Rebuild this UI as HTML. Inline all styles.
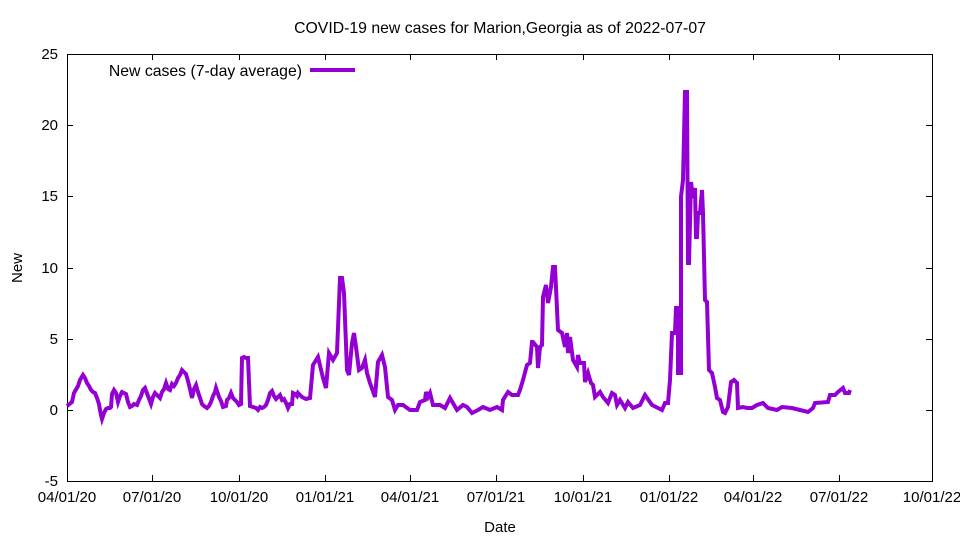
<!DOCTYPE html>
<html><head><meta charset="utf-8"><style>body{margin:0;background:#fff}svg{display:block;font-family:"Liberation Sans",sans-serif}</style></head><body>
<svg width="960" height="540" viewBox="0 0 960 540">
<rect width="960" height="540" fill="#fff"/>
<text x="500" y="33" font-size="15.8" text-anchor="middle">COVID-19 new cases for Marion,Georgia as of 2022-07-07</text>
<g stroke="#000" stroke-width="1" fill="none">
<rect x="67.5" y="54.5" width="865" height="427"/>
<path d="M67,481.5h6M67,410.5h6M67,339.5h6M67,268.5h6M67,196.5h6M67,125.5h6M67,54.5h6M932,481.5h-6M932,410.5h-6M932,339.5h-6M932,268.5h-6M932,196.5h-6M932,125.5h-6M932,54.5h-6"/>
<path d="M152.5,481v-6M239.5,481v-6M325.5,481v-6M410.5,481v-6M496.5,481v-6M583.5,481v-6M669.5,481v-6M753.5,481v-6M839.5,481v-6M152.5,54v6M239.5,54v6M325.5,54v6M410.5,54v6M496.5,54v6M583.5,54v6M669.5,54v6M753.5,54v6M839.5,54v6"/>
</g>
<g font-size="15" text-anchor="end">
<text x="58" y="486">-5</text><text x="58" y="415">0</text><text x="58" y="344">5</text><text x="58" y="273">10</text><text x="58" y="201">15</text><text x="58" y="130">20</text><text x="58" y="59">25</text>
</g>
<g font-size="15" text-anchor="middle">
<text x="67" y="502">04/01/20</text><text x="152" y="502">07/01/20</text><text x="239" y="502">10/01/20</text><text x="325" y="502">01/01/21</text><text x="410" y="502">04/01/21</text><text x="496" y="502">07/01/21</text><text x="583" y="502">10/01/21</text><text x="669" y="502">01/01/22</text><text x="753" y="502">04/01/22</text><text x="839" y="502">07/01/22</text><text x="932" y="502">10/01/22</text>
<text x="500" y="532">Date</text>
<text transform="translate(22,268) rotate(-90)">New</text>
</g>
<text x="302" y="76" font-size="15.8" text-anchor="end">New cases (7-day average)</text>
<path d="M310,70H355" stroke="#9400d3" stroke-width="4"/>
<polyline fill="none" stroke="#9400d3" stroke-width="4" stroke-linejoin="miter" points="67,406 72,402 74,393 78,386 80,380 83,375 85,378 87,383 89,386 91,390 93,392 95,393 97,398 99,404 100,410 101,415 102,419 104,413 106,409 108,408 110,408 111,407 112,394 114,390 116,393 118,402 120,396 122,392 124,393 126,394 128,402 130,407 132,406 134,404 137,405 139,400 141,396 143,390 145,388 148,396 151,404 153,397 155,393 157,395 160,398 162,392 164,389 166,383 168,389 170,390 172,384 174,386 176,383 178,378 180,375 182,370 184,372 186,374 188,381 190,389 192,398 194,389 196,385 198,392 200,398 202,404 204,406 207,408 209,406 211,402 213,396 215,392 216,388 219,397 221,401 223,407 226,406 227,400 229,398 231,393 233,398 235,400 237,402 239,405 241,404 242,358 244,357 246,358 248,358 250,406 253,407 256,408 258,410 260,407 262,408 264,407 266,405 268,400 270,393 272,391 274,396 276,399 278,397 280,395 282,400 284,399 286,403 288,408 290,404 292,404 293,393 295,394 297,396 298,393 300,395 302,397 306,399 310,398 313,365 318,357 323,378 326,388 329,353 333,360 337,353 340,278 342,278 344,293 347,370 349,375 352,343 354,333 356,347 359,370 362,368 365,360 367,373 370,383 375,397 378,362 382,355 385,367 388,397 392,400 395,410 398,405 403,405 410,410 417,410 420,402 425,400 426,392 428,397 430,393 433,405 440,405 445,408 450,398 457,410 463,405 467,407 472,413 478,410 483,407 490,410 497,407 502,410 503,400 508,392 512,395 518,395 520,390 523,380 527,365 530,363 532,342 533,342 537,347 538,368 540,347 542,345 543,297 546,285 548,303 551,287 553,267 555,267 558,330 562,333 565,347 567,333 568,353 570,337 573,360 577,367 578,355 580,363 584,363 585,382 588,373 591,383 593,385 595,397 600,392 603,397 608,403 612,393 615,395 617,405 620,400 625,408 628,402 633,408 640,405 645,395 652,405 658,408 662,410 665,403 668,403 670,380 672,333 675,333 676,308 678,308 678,373 681,373 681,197 683,180 685,92 687,92 688,263 689,263 691,182 693,198 695,188 696,237 697,237 698,213 700,213 702,190 703,213 705,300 707,302 709,370 712,373 715,387 717,398 720,400 723,412 725,413 728,407 731,382 734,380 737,383 738,408 743,407 747,408 752,408 757,405 763,403 768,408 777,410 782,407 792,408 800,410 808,412 813,408 815,403 828,402 830,395 835,395 838,392 843,388 845,393 849,393 850,390"/>
</svg>
</body></html>
